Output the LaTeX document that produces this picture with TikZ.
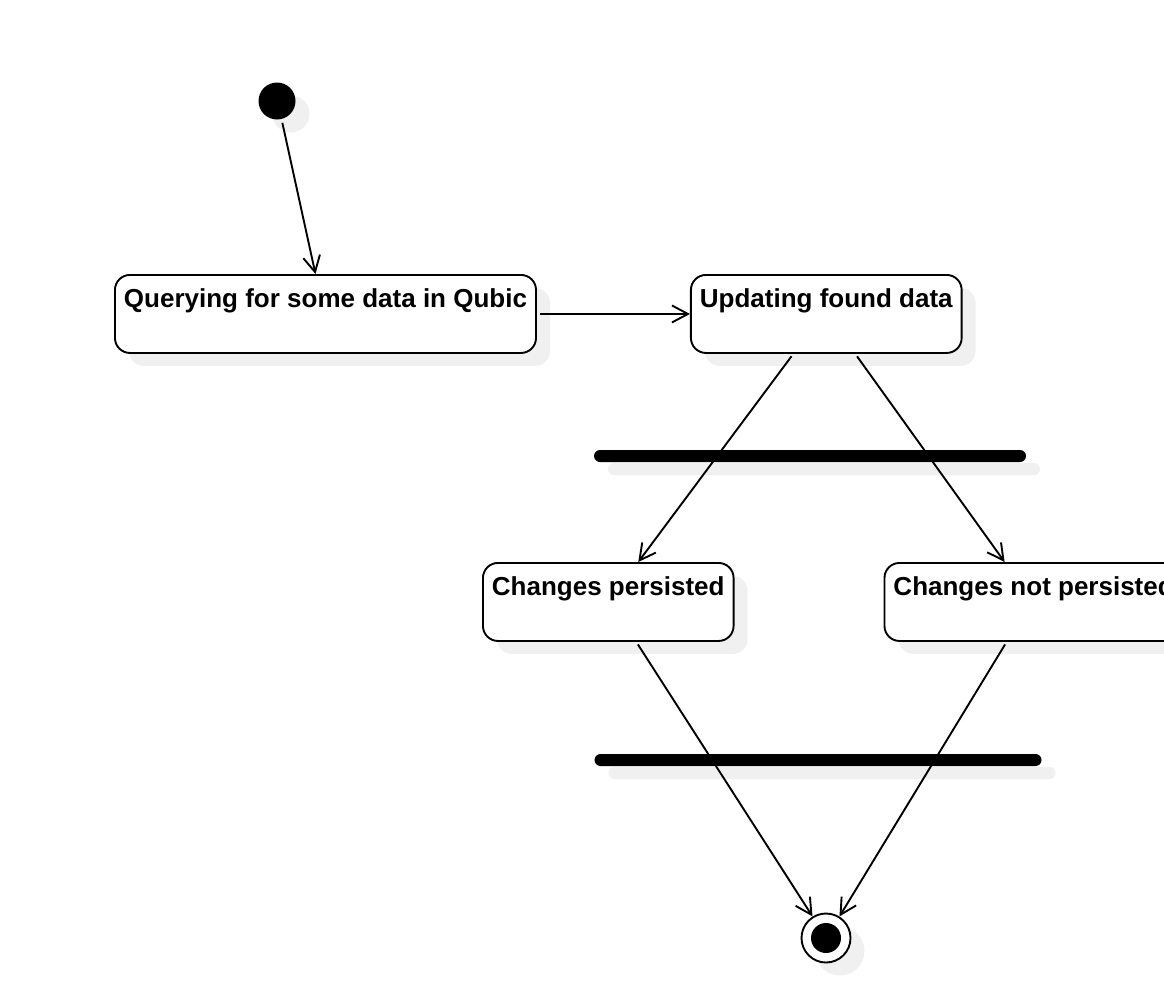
\documentclass[tikz,border=0pt]{standalone}
\usepackage{fontspec}
\setmainfont{Liberation Sans}
\usetikzlibrary{positioning, arrows.meta, shadows}

\tikzset{
  shade off/.style = {drop shadow = {shadow xshift = 14pt, shadow yshift = -13pt, fill = black!6, opacity = 1}},
  state/.style = {draw, fill = white, rounded corners = 15pt, inner xsep = 9pt, inner ysep = 0pt, text height = 33pt, text depth = 45pt, shade off},
  bar/.style = {fill, rounded corners = 6pt, inner sep = 0pt, minimum height = 12pt, shade off},
  initial/.style = {circle, fill, inner sep = 0pt, minimum size = 37pt, shade off},
  final/.style = {circle, draw, fill = white, inner sep = 0pt, minimum size = 49pt, shade off,
    path picture = {\fill [black] (path picture bounding box.center) circle (15pt);}}
}

\begin{document}
\begin{tikzpicture}[x = 1pt, y = -1pt, line width = 1.9pt, font = \bfseries\fontsize{26pt}{30pt}\selectfont, -{Straight Barb[length = 16pt, width = 17pt]}, shorten < = 3pt]
  \useasboundingbox (0, 0) rectangle (1164, 982);

  \node (start) [initial] at (277, 101) {};
  \node (query) [state, anchor = north west] at (114, 274) {Querying for some data in Qubic};
  \node (update) [state, right = 153pt of query] {Updating found data};
  \node (fork) [bar, minimum width = 432pt] at (810, 456) {};
  \node (persisted) [state, anchor = north west] at (482, 562) {Changes persisted};
  \node (notpersisted) [state, right = 149pt of persisted] {Changes not persisted};
  \node (join) [bar, minimum width = 447pt] at (818, 760) {};
  \node (end) [final] at (826, 938) {};

  \draw (start.-76) -- ([xshift = -10pt] query.north);
  \draw (query) -- (update);
  \draw ([xshift = -33pt] update.south) -- ([xshift = 30pt] persisted.north);
  \draw ([xshift = 29pt] update.south) -- ([xshift = -29pt] notpersisted.north);
  \draw ([xshift = 28pt] persisted.south) -- (end.122);
  \draw ([xshift = -27pt] notpersisted.south) -- (end.58);
\end{tikzpicture}
\end{document}
